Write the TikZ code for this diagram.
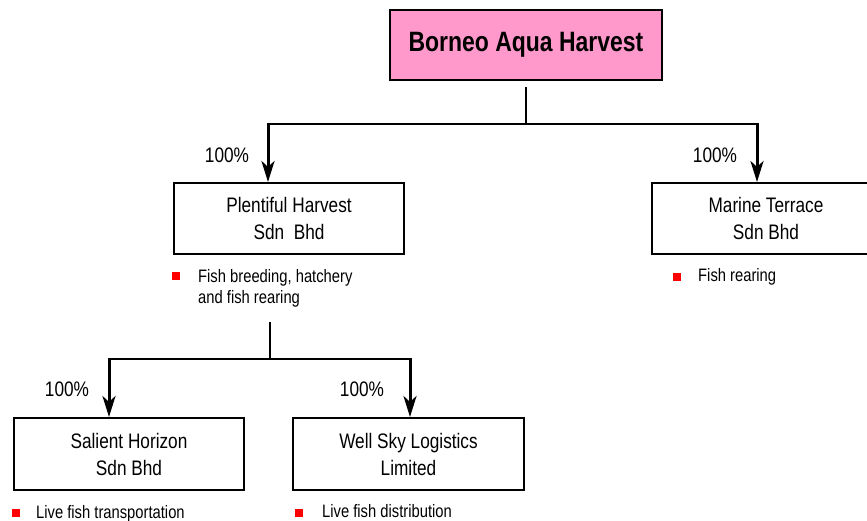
\documentclass[tikz,border=0pt]{standalone}
\usepackage{fontspec}
\setmainfont{Liberation Sans}[FakeStretch=0.82]
\usetikzlibrary{arrows.meta,positioning}
\definecolor{boxpink}{HTML}{FF99CC}

\begin{document}
\begin{tikzpicture}[x=1pt,y=-1pt]
  \tikzstyle{company}=[draw,line width=2pt,minimum height=71pt,inner sep=0pt,align=center,font=\fontsize{21}{27}\selectfont]
  \tikzstyle{share}=[inner sep=0pt,font=\fontsize{21}{25}\selectfont]
  \tikzstyle{bullet}=[fill=red,minimum size=8pt,inner sep=0pt]
  \tikzstyle{activity}=[anchor=base west,align=left,inner sep=0pt,font=\fontsize{18}{20.5}\selectfont]
  \tikzstyle{link}=[line width=2pt]
  \tikzstyle{owns}=[line width=3pt,-{Stealth[length=21pt,width=13pt,inset=6pt]}]
  \useasboundingbox (0,0) rectangle (867,521);
  \clip (0,0) rectangle (867,521);
  % companies
  \node[company,fill=boxpink,minimum width=272pt,minimum height=70pt,font=\bfseries\fontsize{28}{30}\selectfont] (bah) at (526,45) {Borneo Aqua Harvest};
  \node[company,minimum width=230pt] (ph) at (289,218.5) {Plentiful Harvest\\Sdn\ \ Bhd};
  \node[company,minimum width=228pt] (mt) at (766,218.5) {Marine Terrace\\Sdn Bhd};
  \node[company,minimum width=230pt,minimum height=72pt] (sh) at (129,454) {Salient Horizon\\Sdn Bhd};
  \node[company,minimum width=231pt,minimum height=72pt] (ws) at (408.5,454) {Well Sky Logistics\\Limited};
  % ownership lines
  \coordinate (hub) at (526,87);
  \coordinate (bar) at (526,124);
  \coordinate (barl) at (268,124);
  \coordinate (barr) at (757,124);
  \draw[link] (hub) -- (bar);
  \draw[link] (barl) -- (barr);
  \draw[owns] ([yshift=1pt]barl) -- (barl |- ph.north);
  \draw[owns] ([yshift=1pt]barr) -- (barr |- mt.north);
  \coordinate (sub) at (270,322);
  \coordinate (subbar) at (270,359);
  \coordinate (subl) at (109,359);
  \coordinate (subr) at (410,359);
  \draw[link] (sub) -- (subbar);
  \draw[link] (subl) -- (subr);
  \draw[owns] ([yshift=1pt]subl) -- (subl |- sh.north);
  \draw[owns] ([yshift=1pt]subr) -- (subr |- ws.north);
  % percentages
  \node[share] (p1) at (227,155) {100\%};
  \node[share] (p2) at (715,155) {100\%};
  \node[share] (p3) at (67,389) {100\%};
  \node[share] (p4) at (362,389) {100\%};
  % activities
  \foreach \n/\x/\y in {1/175.5/276.5,2/677/277,3/16/513,4/299/513}
     \node[bullet] (b\n) at (\x,\y) {};
  \node[activity] (a1) at (198,303) {Fish breeding, hatchery\\and fish rearing};
  \node[activity] (a2) at (698,282) {Fish rearing};
  \node[activity] (a3) at (36,518) {Live fish transportation};
  \node[activity] (a4) at (322,517) {Live fish distribution};
\end{tikzpicture}
\end{document}
